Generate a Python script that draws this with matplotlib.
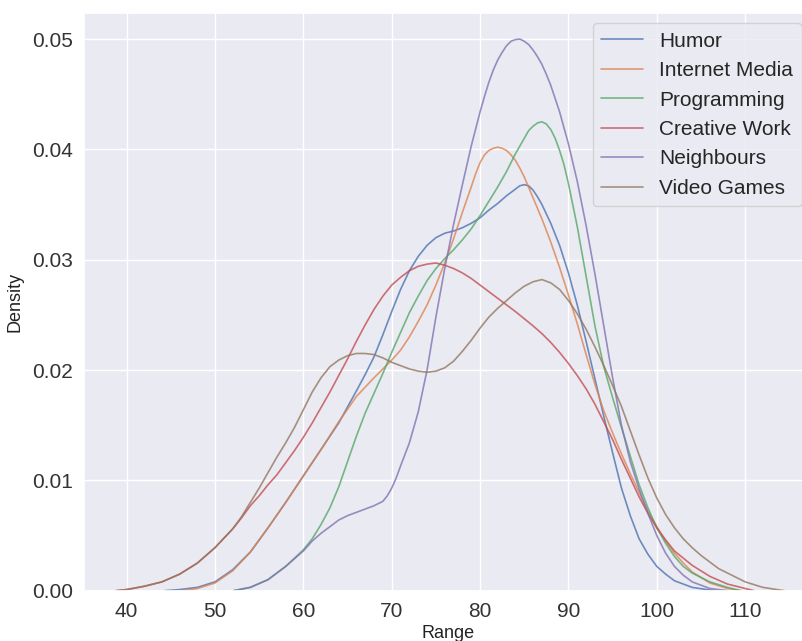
import matplotlib
matplotlib.use("Agg")
import matplotlib.pyplot as plt
import seaborn as sns

sns.set_theme(style="darkgrid")
plt.rcParams["font.family"] = ["Liberation Sans", "DejaVu Sans"]

categories = ["Humor", "Internet Media", "Programming", "Creative Work", "Neighbours", "Video Games"]

# Estimated density curves (Range -> Density) for each category
humor_x = [44.3, 46, 48, 50, 52, 54, 56, 58, 60, 62, 64, 66, 67, 68, 69, 70, 71, 72, 73, 74, 75, 76, 77,
           78, 79, 80, 81, 82, 83, 84, 84.5, 85, 85.5, 86, 86.5, 87, 88, 89, 90, 91, 92, 93, 94, 95,
           96, 97, 98, 99, 100, 101, 102, 103, 104, 106.5]
humor_y = [0.0, 0.0001, 0.0003, 0.0008, 0.0019, 0.0035, 0.0057, 0.0080, 0.0104, 0.0128, 0.0152, 0.0181,
           0.0196, 0.0212, 0.0232, 0.0253, 0.0273, 0.0290, 0.0303, 0.0313, 0.0320, 0.0324, 0.0326,
           0.0329, 0.0333, 0.0338, 0.0345, 0.0351, 0.0358, 0.0364, 0.0367, 0.0368, 0.0367, 0.0363,
           0.0357, 0.0350, 0.0333, 0.0313, 0.0288, 0.0259, 0.0226, 0.0192, 0.0158, 0.0125, 0.0093,
           0.0068, 0.0047, 0.0033, 0.0022, 0.0015, 0.0009, 0.0006, 0.0003, 0.0]

media_x = [46.4, 48, 50, 52, 54, 56, 58, 60, 62, 64, 66, 68, 69, 70, 71, 72, 73, 74, 75, 76, 77, 78, 79,
           79.5, 80, 80.5, 81, 81.5, 82, 82.5, 83, 83.5, 84, 84.5, 85, 86, 87, 88, 89, 90, 91, 92, 93,
           94, 95, 96, 97, 98, 99, 100, 101, 102, 103, 104, 106, 108, 109.5]
media_y = [0.0, 0.0002, 0.0007, 0.0018, 0.0035, 0.0057, 0.0080, 0.0104, 0.0128, 0.0153, 0.0176, 0.0193,
           0.0201, 0.0209, 0.0218, 0.0230, 0.0244, 0.0259, 0.0277, 0.0297, 0.0319, 0.0343, 0.0366,
           0.0378, 0.0388, 0.0395, 0.0399, 0.0401, 0.0402, 0.0401, 0.0399, 0.0395, 0.0390, 0.0383,
           0.0375, 0.0356, 0.0337, 0.0316, 0.0293, 0.0268, 0.0242, 0.0214, 0.0187, 0.0163, 0.0143,
           0.0124, 0.0106, 0.0089, 0.0072, 0.0058, 0.0045, 0.0034, 0.0025, 0.0017, 0.0007, 0.0002,
           0.0]

prog_x = [52.1, 54, 56, 58, 60, 61, 62, 63, 64, 65, 66, 67, 68, 69, 70, 71, 72, 73, 74, 75, 76, 77, 78,
          79, 80, 81, 82, 83, 84, 85, 85.5, 86, 86.5, 87, 87.5, 88, 88.5, 89, 89.5, 90, 91, 92, 93, 94,
          95, 96, 97, 98, 99, 100, 101, 102, 103, 104, 106, 108, 109.5]
prog_y = [0.0, 0.0003, 0.0010, 0.0022, 0.0037, 0.0047, 0.0060, 0.0075, 0.0094, 0.0117, 0.0140, 0.0161,
          0.0179, 0.0197, 0.0216, 0.0234, 0.0252, 0.0267, 0.0281, 0.0292, 0.0301, 0.0309, 0.0318,
          0.0328, 0.0340, 0.0353, 0.0366, 0.0380, 0.0396, 0.0410, 0.0417, 0.0421, 0.0424, 0.0425,
          0.0423, 0.0418, 0.0410, 0.0399, 0.0386, 0.0369, 0.0330, 0.0285, 0.0240, 0.0203, 0.0175,
          0.0148, 0.0122, 0.0096, 0.0075, 0.0057, 0.0043, 0.0031, 0.0022, 0.0016, 0.0008, 0.0003, 0.0]

creative_x = [38.8, 40, 42, 44, 46, 48, 50, 52, 53, 54, 55, 56, 57, 58, 59, 60, 61, 62, 63, 64, 65, 66,
              67, 68, 69, 70, 71, 72, 73, 74, 75, 76, 77, 78, 79, 80, 82, 84, 86, 87, 88, 89, 90, 91,
              92, 93, 94, 95, 96, 97, 98, 99, 100, 101, 102, 104, 106, 108, 110, 111]
creative_y = [0.0, 0.0001, 0.0004, 0.0008, 0.0015, 0.0025, 0.0039, 0.0056, 0.0066, 0.0077, 0.0086,
              0.0096, 0.0105, 0.0116, 0.0127, 0.0139, 0.0152, 0.0166, 0.0180, 0.0195, 0.0210, 0.0226,
              0.0241, 0.0255, 0.0267, 0.0277, 0.0284, 0.0290, 0.0294, 0.0296, 0.0297, 0.0295, 0.0292,
              0.0288, 0.0283, 0.0277, 0.0265, 0.0253, 0.0240, 0.0233, 0.0225, 0.0216, 0.0206, 0.0195,
              0.0183, 0.0169, 0.0153, 0.0137, 0.0119, 0.0102, 0.0085, 0.0070, 0.0057, 0.0046, 0.0036,
              0.0023, 0.0013, 0.0006, 0.0002, 0.0]

neigh_x = [52.1, 54, 56, 58, 60, 61, 62, 63, 64, 65, 66, 67, 68, 69, 69.5, 70, 70.5, 71, 72, 73, 74, 75,
           76, 77, 78, 79, 80, 80.5, 81, 81.5, 82, 82.5, 83, 83.5, 84, 84.5, 85, 85.5, 86, 86.5, 87,
           87.5, 88, 89, 90, 91, 92, 93, 94, 95, 96, 97, 98, 99, 100, 101, 102, 103, 104, 105, 106, 108]
neigh_y = [0.0, 0.0003, 0.0010, 0.0022, 0.0036, 0.0045, 0.0052, 0.0058, 0.0064, 0.0068, 0.0071, 0.0074,
           0.0077, 0.0081, 0.0086, 0.0093, 0.0102, 0.0113, 0.0134, 0.0162, 0.0200, 0.0248, 0.0292,
           0.0332, 0.0368, 0.0403, 0.0434, 0.0448, 0.0461, 0.0472, 0.0481, 0.0488, 0.0494, 0.0498,
           0.04995, 0.0500, 0.0498, 0.0495, 0.0490, 0.0484, 0.0477, 0.0468, 0.0458, 0.0434, 0.0405,
           0.0371, 0.0331, 0.0287, 0.0240, 0.0193, 0.0150, 0.0117, 0.0092, 0.0070, 0.0050, 0.0034,
           0.0022, 0.0014, 0.0008, 0.0005, 0.0002, 0.0]

games_x = [38.8, 40, 42, 44, 46, 48, 50, 52, 53, 54, 55, 56, 57, 58, 59, 60, 61, 62, 63, 64, 65, 66, 67,
           68, 69, 70, 71, 72, 73, 74, 75, 76, 77, 78, 79, 80, 81, 82, 83, 84, 85, 86, 87, 88, 89, 90,
           91, 92, 93, 94, 95, 96, 97, 98, 99, 100, 101, 102, 103, 104, 105, 106, 107, 108, 110, 112,
           114.4]
games_y = [0.0, 0.0001, 0.0004, 0.0008, 0.0015, 0.0025, 0.0039, 0.0056, 0.0067, 0.0080, 0.0093, 0.0107,
           0.0121, 0.0134, 0.0148, 0.0164, 0.0180, 0.0193, 0.0203, 0.0209, 0.0213, 0.0215, 0.0215,
           0.0214, 0.0211, 0.0207, 0.0204, 0.0201, 0.0199, 0.0198, 0.0199, 0.0202, 0.0208, 0.0217,
           0.0227, 0.0238, 0.0248, 0.0256, 0.0263, 0.0270, 0.0276, 0.0280, 0.0282, 0.0279, 0.0273,
           0.0263, 0.0251, 0.0237, 0.0221, 0.0204, 0.0186, 0.0167, 0.0145, 0.0123, 0.0102, 0.0084,
           0.0069, 0.0057, 0.0047, 0.0039, 0.0032, 0.0026, 0.0020, 0.0016, 0.0008, 0.0003, 0.0]

series = [
    (humor_x, humor_y),
    (media_x, media_y),
    (prog_x, prog_y),
    (creative_x, creative_y),
    (neigh_x, neigh_y),
    (games_x, games_y),
]
palette = sns.color_palette("deep", len(categories))

fig = plt.figure(figsize=(8.02, 6.41), dpi=100)
ax = fig.add_axes([0.1047, 0.0785, 0.9077, 0.9012])

for name, (xs, ys), color in zip(categories, series, palette):
    ax.plot(xs, ys, color=color, lw=1.2, alpha=0.8, label=name,
            solid_joinstyle="round", solid_capstyle="round")

ax.set_xlim(35.17, 117.56)
ax.set_ylim(0, 0.05236)
ax.set_xticks([40, 50, 60, 70, 80, 90, 100, 110])
ax.set_yticks([0.0, 0.01, 0.02, 0.03, 0.04, 0.05])
ax.set_yticklabels([f"{t:.2f}" for t in ax.get_yticks()])
ax.tick_params(axis="both", labelsize=15, pad=2, length=6, colors="#333333")
ax.set_xlabel("Range", fontsize=13, labelpad=3, color="#222222")
ax.set_ylabel("Density", fontsize=13, labelpad=6, color="#222222")

ax.legend(loc="upper right", fontsize=15)

fig.savefig("out.png", dpi=100)
